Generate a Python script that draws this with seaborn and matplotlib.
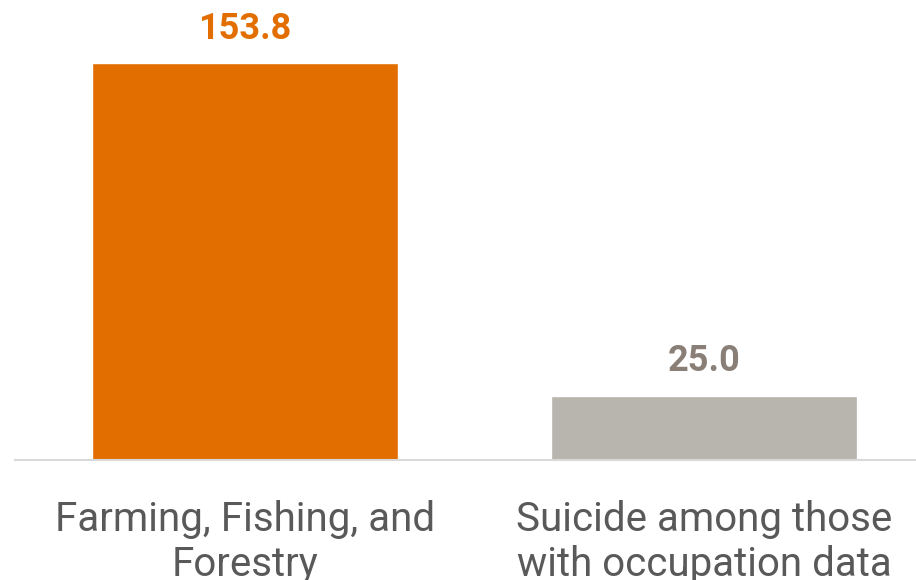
import matplotlib
matplotlib.use("Agg")
import matplotlib.pyplot as plt
import seaborn as sns
import pandas as pd

categories = ["Farming, Fishing, and\nForestry", "Suicide among those\nwith occupation data"]
values = [153.8, 25.0]
value_labels = ["153.8", "25.0"]
bar_colors = ["#E26E00", "#B8B4AE"]
label_colors = ["#E26E00", "#8A7F77"]

sns.set_theme(style="white")
plt.rcParams["font.family"] = ["Roboto", "DejaVu Sans"]

df = pd.DataFrame({"category": categories, "value": values})

fig = plt.figure(figsize=(9.16, 5.8), dpi=100)
ax = fig.add_axes([15/916, 1 - 460/580, 1 - 15/916, 460/580])

sns.barplot(data=df, x="category", y="value", hue="category",
            palette=bar_colors, width=0.667, legend=False, ax=ax,
            saturation=1)

ax.set_xlim(-0.501, 1.462)
ax.set_ylim(0, 460/2.58)

for i, (v, t, c) in enumerate(zip(values, value_labels, label_colors)):
    ax.annotate(t, (i, v), xytext=(0, 12), textcoords="offset points",
                ha="center", va="bottom", fontsize=26, fontweight="bold",
                color=c)

for s in ["top", "right", "left"]:
    ax.spines[s].set_visible(False)
ax.spines["bottom"].set_color("#D9D9D9")
ax.spines["bottom"].set_linewidth(1.5)
ax.set_yticks([])
ax.set_xlabel("")
ax.set_ylabel("")
ax.tick_params(axis="x", length=0, pad=29, labelsize=29, labelcolor="#595959")
for lbl in ax.get_xticklabels():
    lbl.set_linespacing(1.18)

fig.savefig("out.png", dpi=100)
